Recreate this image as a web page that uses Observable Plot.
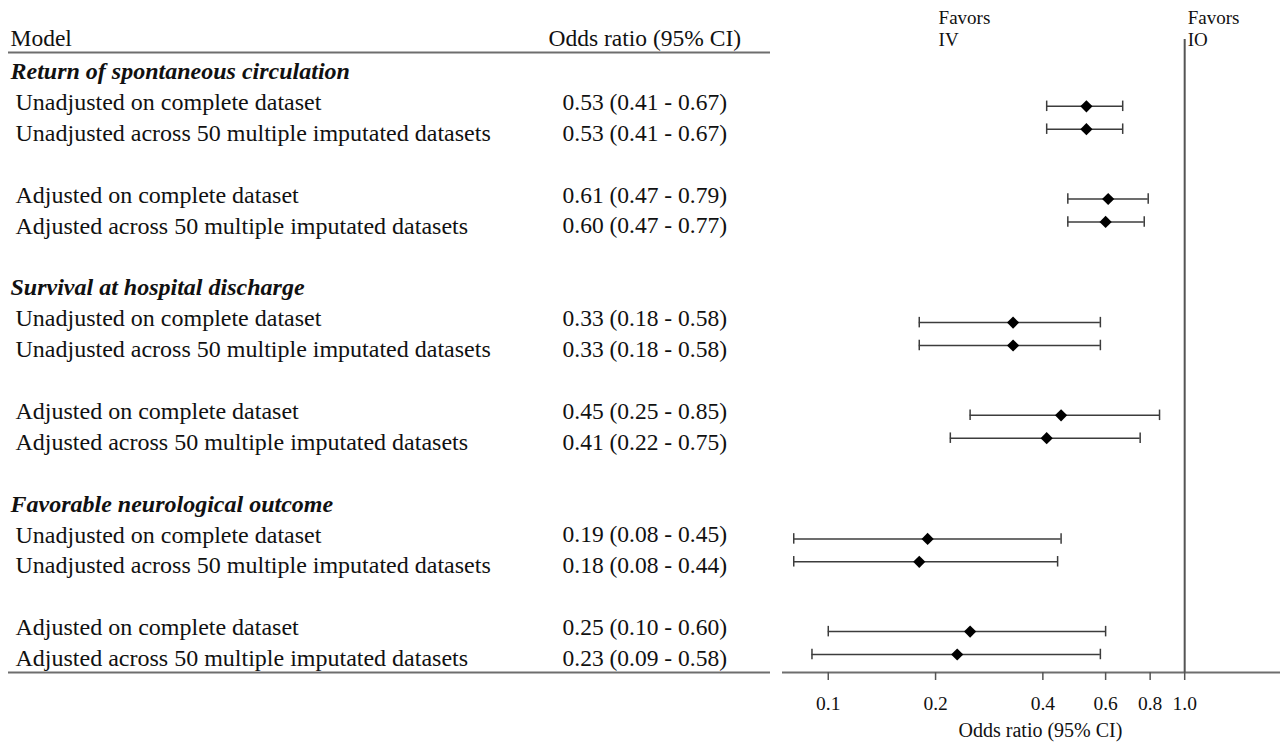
<!DOCTYPE html>
<html>
<head>
<meta charset="utf-8">
<script src="https://cdn.jsdelivr.net/npm/d3@7"></script>
<script src="https://cdn.jsdelivr.net/npm/@observablehq/plot@0.6"></script>
<style>
  body { margin: 0; background: #fff; }
</style>
</head>
<body>
<div id="chart"></div>
<script>
// ---- Data ----
const sections = [
  "Return of spontaneous circulation",
  "Survival at hospital discharge",
  "Favorable neurological outcome"
];
const models = [
  "Unadjusted on complete dataset",
  "Unadjusted across 50 multiple imputated datasets",
  "Adjusted on complete dataset",
  "Adjusted across 50 multiple imputated datasets"
];
const oddsRatio = [0.53, 0.53, 0.61, 0.60, 0.33, 0.33, 0.45, 0.41, 0.19, 0.18, 0.25, 0.23];
const ciLow     = [0.41, 0.41, 0.47, 0.47, 0.18, 0.18, 0.25, 0.22, 0.08, 0.08, 0.10, 0.09];
const ciHigh    = [0.67, 0.67, 0.79, 0.77, 0.58, 0.58, 0.85, 0.75, 0.45, 0.44, 0.60, 0.58];
const xTicks = [0.1, 0.2, 0.4, 0.6, 0.8, 1.0];
const favorLabels = [{value: 0.2, text: "Favors\nIV"}, {value: 1.0, text: "Favors\nIO"}];
const headerModel = "Model";
const headerOR = "Odds ratio (95% CI)";
const axisTitle = "Odds ratio (95% CI)";

// ---- Layout (row slots) ----
const slotInSection = [1, 2, 4, 5];
const f2 = d3.format(".2f");
const f1 = d3.format(".1f");
const rows = [];
const headers = sections.map((s, i) => ({label: s, row: 1 + 7 * i}));
sections.forEach((s, si) => {
  models.forEach((m, mi) => {
    const i = si * 4 + mi;
    rows.push({
      label: m,
      row: 1 + 7 * si + slotInSection[mi],
      first: mi % 2 === 0,
      or: oddsRatio[i], lo: ciLow[i], hi: ciHigh[i],
      ci: `${f2(oddsRatio[i])} (${f2(ciLow[i])} - ${f2(ciHigh[i])})`
    });
  });
});
const my = d => d.row + (d.first ? 0.13 : -0.13);
const cap = 0.17;

const lineColor = "#3c3c3c";

const chart = Plot.plot({
  width: 1283,
  height: 746,
  marginLeft: 782,
  marginRight: 3,
  marginTop: 39,
  marginBottom: 74,
  style: {fontFamily: "'Liberation Serif', 'Times New Roman', serif", fontSize: "19px", color: "#111", background: "#fff"},
  x: {type: "log", domain: [0.0744, 1.857]},
  y: {domain: [0, 20], range: [40, 658], axis: null},
  marks: [
    // table rules
    Plot.ruleY([0], {dy: 12, insetLeft: -774, insetRight: 510, stroke: "#6e6e6e", strokeWidth: 2}),
    Plot.ruleY([20], {dy: 14, insetLeft: -774, insetRight: 510, stroke: "#6e6e6e", strokeWidth: 2}),
    // axis line
    Plot.ruleY([20], {dy: 14, stroke: "#6e6e6e", strokeWidth: 2}),
    // reference line at 1
    Plot.ruleX([1], {stroke: "#555", strokeWidth: 2}),
    // axis ticks and labels
    Plot.axisX({ticks: xTicks, tickFormat: () => "", tickSize: 8, label: null, stroke: "#555", strokeWidth: 1.5}),
    Plot.text(xTicks, {x: d => d, text: d => f1(d), frameAnchor: "bottom", dy: 37, fontSize: 19.5}),
    Plot.text([axisTitle], {frameAnchor: "bottom", dy: 64, dx: 9, fontSize: 20}),
    // favors labels
    Plot.text(favorLabels, {x: "value", text: "text", frameAnchor: "top", lineAnchor: "top", textAnchor: "start", dx: 3, dy: -31, fontSize: 19, lineHeight: 1.16}),
    // table headers
    Plot.text([headerModel], {y: 0, frameAnchor: "left", textAnchor: "start", dx: -772, dy: -2, fontSize: 23.5}),
    Plot.text([headerOR], {y: 0, frameAnchor: "left", textAnchor: "start", dx: -234, dy: -2, fontSize: 23.5}),
    Plot.text(headers, {y: "row", text: "label", frameAnchor: "left", textAnchor: "start", dx: -772, fontSize: 24, fontWeight: "bold", fontStyle: "italic"}),
    Plot.text(rows, {y: "row", text: "label", frameAnchor: "left", textAnchor: "start", dx: -767, fontSize: 24}),
    Plot.text(rows, {y: "row", text: "ci", frameAnchor: "left", textAnchor: "start", dx: -220, fontSize: 23.5}),
    // CI bars
    Plot.ruleY(rows, {y: my, x1: "lo", x2: "hi", stroke: lineColor, strokeWidth: 1.5}),
    Plot.ruleX(rows, {x: "lo", y1: d => my(d) - cap, y2: d => my(d) + cap, stroke: lineColor, strokeWidth: 1.5}),
    Plot.ruleX(rows, {x: "hi", y1: d => my(d) - cap, y2: d => my(d) + cap, stroke: lineColor, strokeWidth: 1.5}),
    // point estimates
    Plot.dot(rows, {x: "or", y: my, symbol: "diamond2", r: 5.5, fill: "black", stroke: "none"})
  ]
});
document.getElementById("chart").append(chart);
</script>
</body>
</html>
